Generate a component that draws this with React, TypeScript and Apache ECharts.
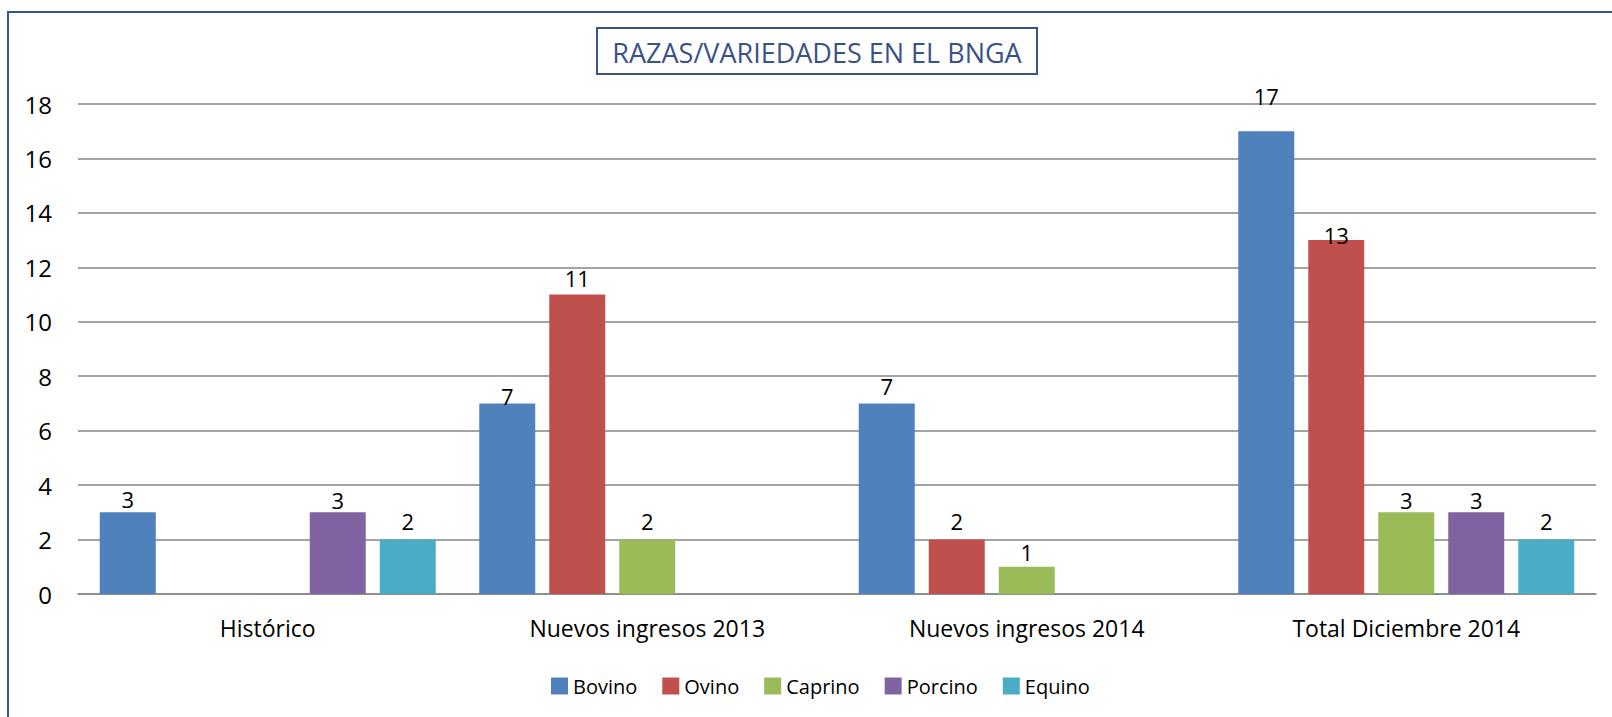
import React, { useEffect, useRef } from "react";
import * as echarts from "echarts";

const categories = ["Histórico", "Nuevos ingresos 2013", "Nuevos ingresos 2014", "Total Diciembre 2014"];
const seriesNames = ["Bovino", "Ovino", "Caprino", "Porcino", "Equino"];
const bovino = [3, 7, 7, 17];
const ovino = [null, 11, 2, 13];
const caprino = [null, 2, 1, 3];
const porcino = [3, null, null, 3];
const equino = [2, null, null, 2];
const yTicks = [0, 2, 4, 6, 8, 10, 12, 14, 16, 18];
const titleText = "RAZAS/VARIEDADES EN EL BNGA";

const colors = ["#4F81BD", "#C0504D", "#9BBB59", "#8064A2", "#4BACC6"];
// label gap (px) above each bar, per series and category, as placed in the original
const labelGaps = [
  [2, -4, 6, 24],
  [0, 6, 8, -6],
  [0, 8, 4, 1],
  [1, 0, 0, 1],
  [8, 0, 0, 8],
];

const FONT = "'Open Sans', 'Noto Sans', sans-serif";

export default function App() {
  const ref = useRef<HTMLDivElement>(null);
  useEffect(() => {
    if (!ref.current) return;
    const chart = echarts.init(ref.current, null, { renderer: "svg" });
    const all = [bovino, ovino, caprino, porcino, equino];
    const series = all.map((vals, si) => ({
      name: seriesNames[si],
      type: "bar",
      barWidth: 56,
      barGap: "25%",
      itemStyle: { color: colors[si] },
      data: vals.map((v, ci) =>
        v === null
          ? null
          : {
              value: v,
              label: {
                show: true,
                position: "top",
                distance: labelGaps[si][ci],
                color: "#000",
                fontSize: 22,
                fontFamily: FONT,
              },
            }
      ),
    }));
    chart.setOption({
      animation: false,
      backgroundColor: "#fff",
      textStyle: { fontFamily: FONT },
      grid: { left: 78, right: 16, top: 104, bottom: 123, containLabel: false },
      legend: {
        data: seriesNames,
        left: 546,
        top: 671,
        itemWidth: 17,
        itemHeight: 17,
        itemGap: 25,
        icon: "rect",
        textStyle: { fontSize: 20, color: "#000", fontFamily: FONT },
      },
      xAxis: {
        type: "category",
        data: categories,
        axisLine: { show: true, lineStyle: { color: "#868686", width: 1.5 } },
        axisTick: { show: false },
        axisLabel: { color: "#000", fontSize: 23, fontFamily: FONT, margin: 22 },
      },
      yAxis: {
        type: "value",
        min: yTicks[0],
        max: yTicks[yTicks.length - 1],
        interval: 2,
        axisLine: { show: false },
        axisTick: { show: false },
        splitLine: { lineStyle: { color: "#868686", width: 1.5 } },
        axisLabel: { color: "#000", fontSize: 24, fontFamily: FONT, margin: 26 },
      },
      graphic: [
        {
          type: "rect",
          shape: { x: 8, y: 12, width: 1700, height: 800 },
          style: { fill: "none", stroke: "#3B5593", lineWidth: 2 },
          silent: true,
        },
        {
          type: "rect",
          shape: { x: 597, y: 28, width: 440, height: 46 },
          style: { fill: "#fff", stroke: "#3B5289", lineWidth: 2 },
          silent: true,
        },
        {
          type: "text",
          x: 817,
          y: 52,
          style: {
            text: titleText,
            fill: "#3B5289",
            fontSize: 27,
            fontFamily: FONT,
            align: "center",
            verticalAlign: "middle",
          },
          silent: true,
        },
      ],
      series,
    });
    return () => chart.dispose();
  }, []);
  return (
    <div
      ref={ref}
      style={{ position: "absolute", left: 0, top: 0, width: 1612, height: 717 }}
    />
  );
}
